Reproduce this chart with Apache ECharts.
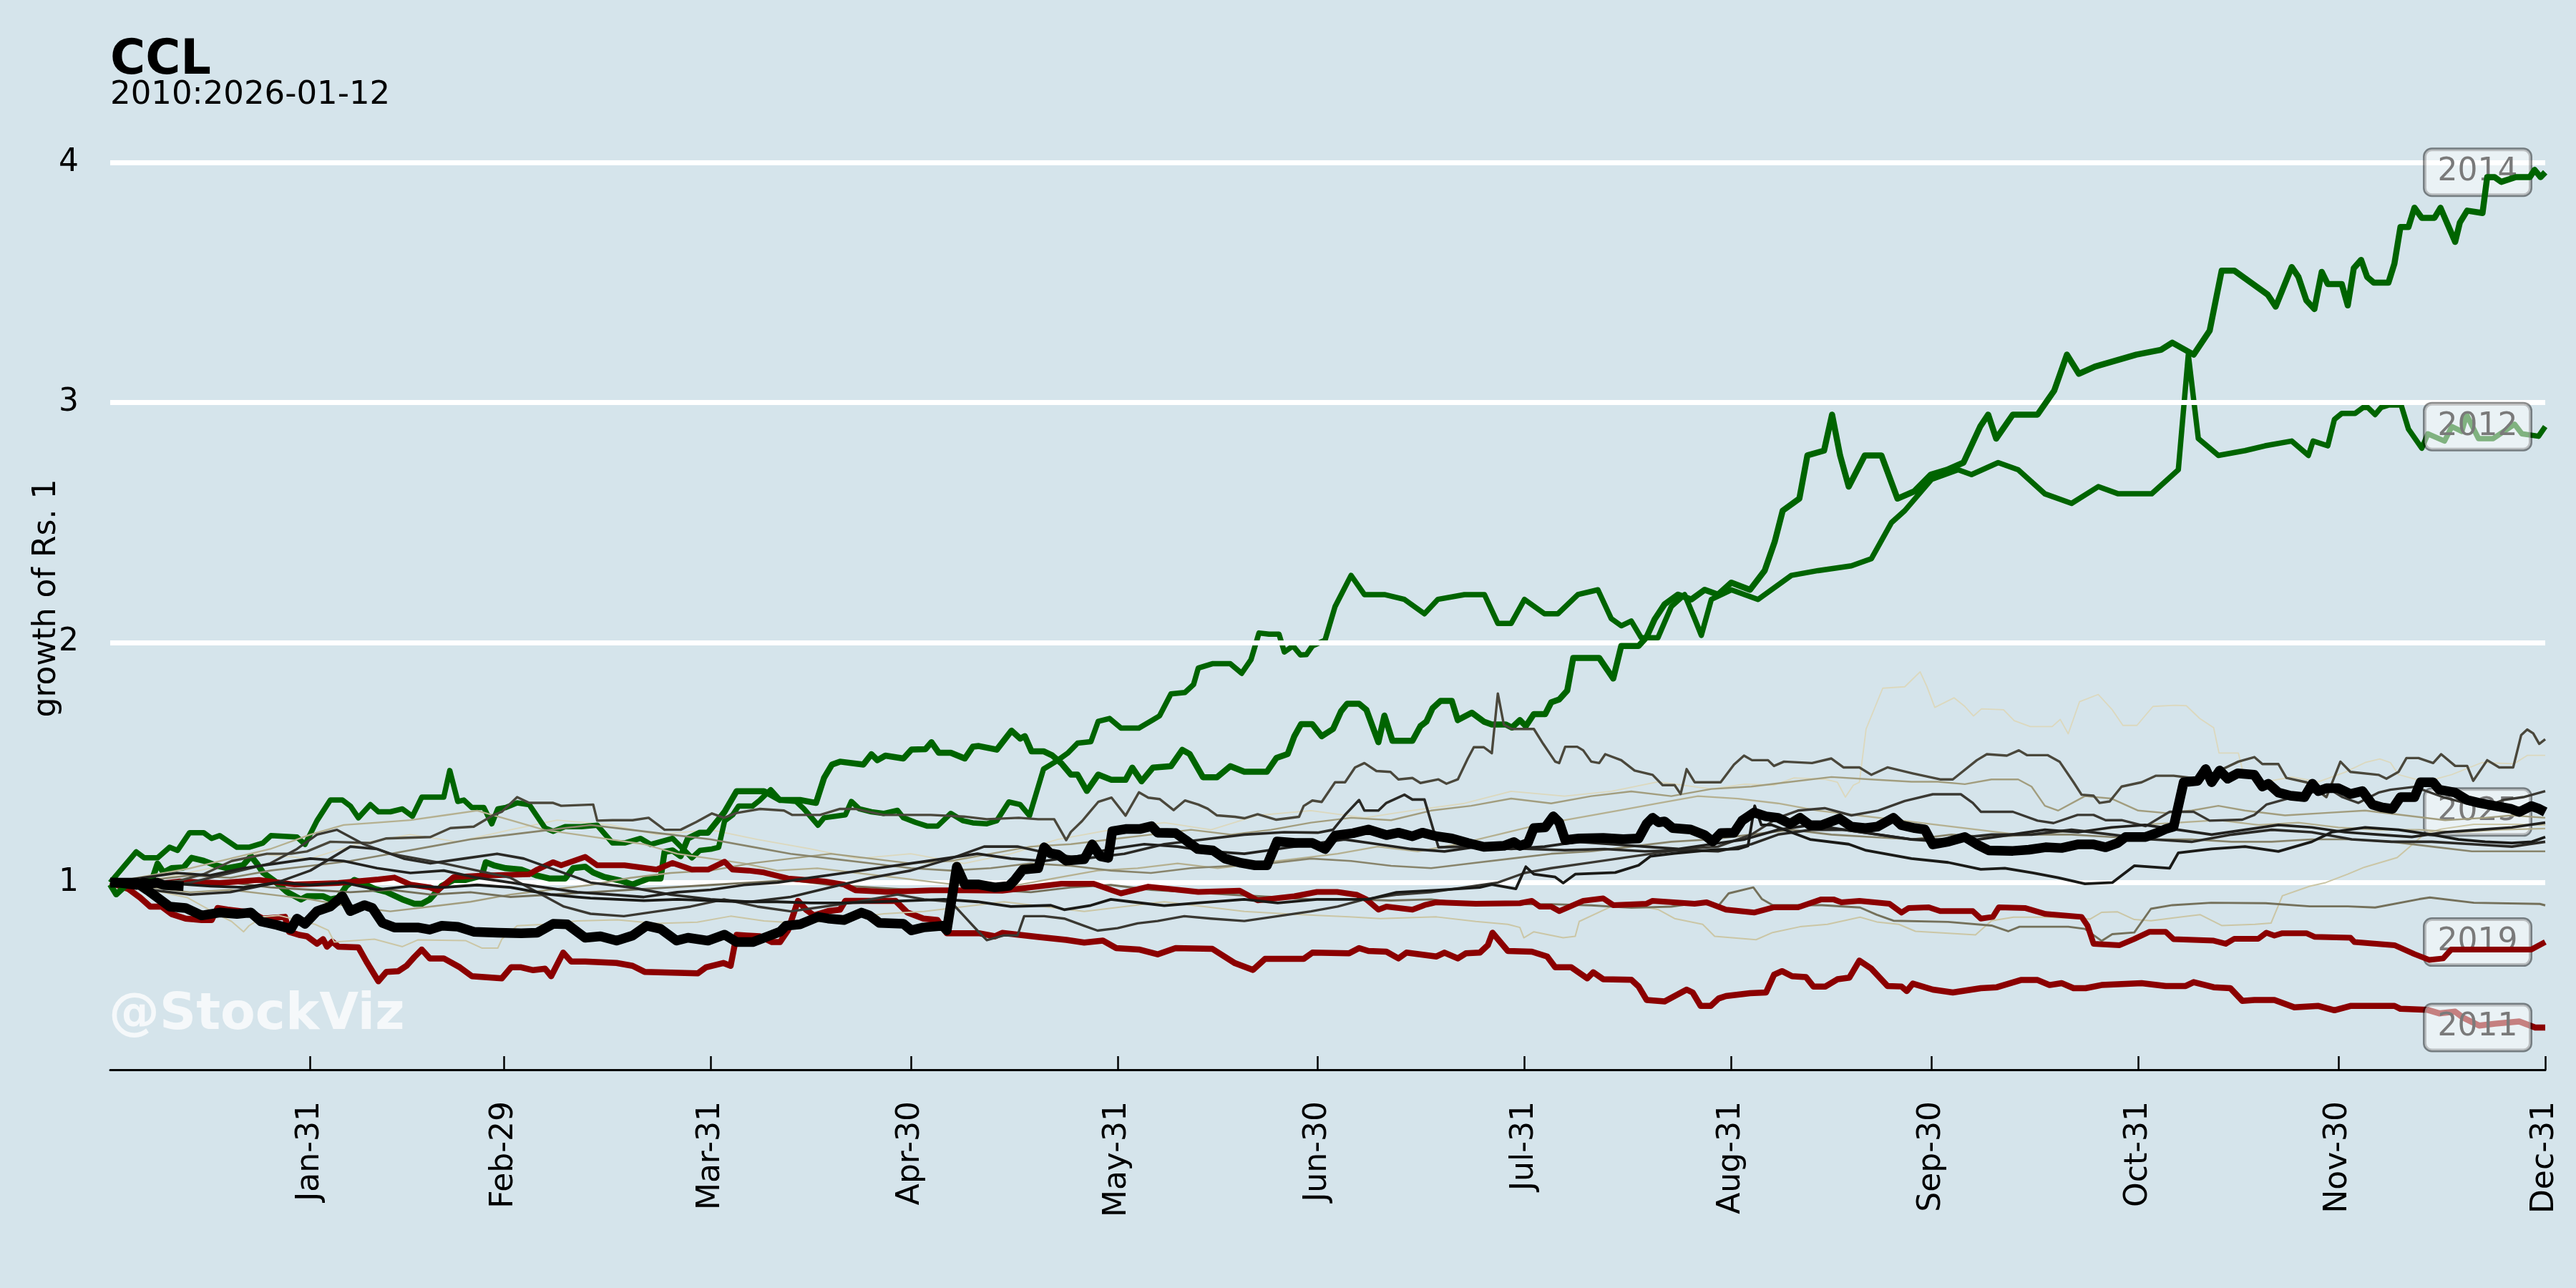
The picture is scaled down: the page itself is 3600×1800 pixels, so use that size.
<!DOCTYPE html>
<html><head><meta charset="utf-8">
<script src="https://cdn.jsdelivr.net/npm/echarts@6/dist/echarts.min.js"></script>
<style>html,body{margin:0;padding:0;background:#d5e4eb;}#c{width:3600px;height:1800px;}</style>
</head><body><div id="c"></div>
<script>
// ---- axis ticks (day of year, leap-year calendar) ----
const tickDays = [30,59,90,120,151,181,212,243,273,304,334,365];
const tickLabels = ['Jan-31','Feb-29','Mar-31','Apr-30','May-31','Jun-30','Jul-31','Aug-31','Sep-30','Oct-31','Nov-30','Dec-31'];
const yTicks = [1,2,3,4];
const titleText = 'CCL';
const subtitleText = '2010:2026-01-12';
const yAxisName = 'growth of Rs. 1';
const watermark = '@StockViz';
const labeledYears = ['2014','2012','2025','2019','2011'];

// ---- series values: [day of year, growth of Rs. 1] ----
const y2010 = [[0,1.0],[8,1.02],[15,1.06],[22,1.12],[30,1.1],[37,1.16],[45,1.2],[52,1.17],[60,1.22],[67,1.26],[75,1.24],[82,1.2],[90,1.22],[97,1.18],[105,1.14],[112,1.1],[120,1.12],[128,1.08],[135,1.12],[142,1.18],[150,1.22],[158,1.25],[165,1.22],[172,1.28],[180,1.3],[188,1.27],[195,1.3],[203,1.33],[210,1.38],[218,1.36],[225,1.38],[232,1.42],[240,1.39],[245,1.41],[249.4,1.406],[252.4,1.436],[257.1,1.43],[258.9,1.418],[260.1,1.356],[261.3,1.406],[262.2,1.418],[263.2,1.64],[265.7,1.81],[269,1.816],[271.3,1.878],[272.3,1.818],[273.5,1.73],[276.4,1.77],[278,1.734],[279.3,1.694],[280.5,1.724],[283.8,1.72],[285.4,1.675],[287.8,1.65],[291.1,1.65],[292.3,1.68],[293.5,1.62],[295.2,1.754],[298,1.784],[300.1,1.72],[301.7,1.655],[303.8,1.655],[306.2,1.734],[309.5,1.739],[311.2,1.737],[313.2,1.684],[315.3,1.645],[316.1,1.54],[319,1.54],[319.8,1.45],[323,1.42],[327,1.44],[331,1.42],[335,1.46],[338,1.5],[340.2,1.515],[341.8,1.5],[343,1.45],[347,1.42],[351,1.45],[355.5,1.5],[360.3,1.495],[362.3,1.53],[365,1.53]];
const y2011 = [[0,1.0],[2.7,0.974],[4.5,0.937],[6,0.9],[7.7,0.9],[9.2,0.869],[11.3,0.85],[13.7,0.844],[15.2,0.844],[16.1,0.894],[17.6,0.887],[21.1,0.875],[22.9,0.85],[26.2,0.857],[26.8,0.795],[28.3,0.782],[29.5,0.776],[31,0.745],[31.9,0.764],[32.5,0.733],[33.3,0.754],[34.2,0.733],[37.2,0.73],[38.4,0.671],[40.2,0.589],[41.4,0.628],[43.2,0.631],[44.4,0.653],[45.6,0.69],[46.7,0.721],[47.9,0.684],[50,0.684],[52.4,0.647],[54.2,0.61],[58.7,0.601],[60.1,0.647],[61.6,0.647],[63.4,0.635],[65.2,0.641],[66.1,0.61],[67.9,0.708],[69.1,0.671],[71.2,0.671],[75.9,0.665],[78.3,0.653],[80.1,0.628],[88.1,0.622],[89.3,0.647],[91.9,0.665],[93,0.653],[93.9,0.782],[95.4,0.779],[97.4,0.776],[99.2,0.752],[100.4,0.752],[101.6,0.801],[103.1,0.924],[104.3,0.887],[105.5,0.863],[107.6,0.881],[109.4,0.887],[110.2,0.924],[113.5,0.924],[117.7,0.924],[119.5,0.875],[121.9,0.85],[124,0.844],[125.4,0.789],[127.8,0.789],[130.2,0.789],[132.6,0.776],[133.7,0.79],[139.2,0.773],[143.3,0.761],[146,0.75],[148.8,0.758],[150.8,0.727],[154.2,0.721],[157,0.701],[159.7,0.727],[165.2,0.724],[168.6,0.664],[171.3,0.636],[173.1,0.682],[178.9,0.682],[180.2,0.708],[185.7,0.705],[187.2,0.727],[188.6,0.715],[191.3,0.712],[193.1,0.684],[194.3,0.708],[198.8,0.692],[200,0.708],[202,0.684],[203.2,0.705],[205.3,0.708],[206.5,0.739],[207.2,0.791],[209.5,0.715],[213.1,0.712],[215.4,0.692],[216.6,0.647],[219,0.647],[221.4,0.601],[222.3,0.626],[223.8,0.597],[228,0.595],[229.1,0.567],[230.3,0.511],[233,0.505],[236.3,0.554],[237.2,0.542],[238.4,0.486],[239.9,0.486],[241.1,0.517],[242.2,0.527],[245.8,0.539],[248.2,0.542],[249.4,0.616],[250.6,0.631],[252.1,0.61],[254.2,0.606],[255.3,0.567],[257.1,0.567],[258.9,0.597],[260.7,0.604],[262.2,0.675],[264,0.641],[266.4,0.569],[268.5,0.567],[269.3,0.548],[270.2,0.579],[273.2,0.554],[276.2,0.542],[280.4,0.56],[282.8,0.564],[286.4,0.594],[288.9,0.594],[290.7,0.573],[292.5,0.581],[294.3,0.56],[296.1,0.56],[298.5,0.573],[304.5,0.581],[308.1,0.569],[311.1,0.569],[312.3,0.585],[315.3,0.564],[317.8,0.56],[319.6,0.507],[321.4,0.511],[324.4,0.511],[327.4,0.48],[331,0.486],[333.4,0.468],[335.8,0.486],[342.4,0.486],[343.3,0.474],[347.3,0.47],[349.1,0.455],[351.5,0.462],[352.7,0.437],[355.1,0.404],[357.5,0.412],[361.1,0.421],[363.5,0.396],[365,0.396]];
const y2012 = [[0,1.0],[3.9,1.128],[5.1,1.103],[7.1,1.103],[8.9,1.147],[10.1,1.134],[11.9,1.208],[14,1.208],[15.2,1.184],[16.4,1.196],[19,1.147],[20.8,1.147],[22.9,1.165],[24.1,1.196],[28,1.19],[29.2,1.159],[31,1.258],[33,1.344],[34.8,1.344],[36,1.319],[37.2,1.27],[39,1.325],[40.2,1.295],[42,1.295],[43.8,1.307],[45.3,1.276],[46.7,1.356],[50,1.356],[50.9,1.467],[52.1,1.338],[53,1.344],[54.2,1.313],[56,1.313],[57.2,1.245],[58.1,1.307],[59.3,1.313],[61,1.332],[62.8,1.325],[65.2,1.227],[66.4,1.214],[68.2,1.233],[70.6,1.233],[73,1.239],[75.3,1.165],[77.1,1.165],[79.5,1.184],[81,1.159],[84.3,1.184],[85.2,1.159],[87.2,1.103],[88.4,1.134],[90.2,1.14],[91.2,1.147],[92.1,1.257],[93.3,1.282],[94.2,1.319],[96.3,1.319],[97.4,1.344],[99,1.387],[100.4,1.344],[102.8,1.338],[104,1.307],[106.1,1.239],[107,1.27],[110.2,1.282],[111.1,1.338],[112.3,1.307],[114.1,1.295],[115.9,1.288],[118,1.301],[118.9,1.27],[120.7,1.251],[122.5,1.235],[124,1.235],[126,1.288],[127.8,1.258],[129.3,1.249],[131.4,1.245],[132.9,1.258],[134.7,1.336],[136.4,1.325],[137.8,1.279],[138.8,1.371],[139.9,1.473],[141.9,1.507],[143.6,1.541],[145,1.581],[147,1.587],[148.1,1.672],[149.8,1.684],[151.5,1.644],[154.2,1.644],[156.3,1.678],[157.3,1.695],[159,1.786],[161.1,1.792],[162.4,1.826],[163.1,1.894],[165.2,1.912],[167.9,1.912],[169.6,1.872],[171,1.929],[172.2,2.04],[173.7,2.035],[175.2,2.035],[176,1.961],[177.3,1.986],[178.4,1.949],[179.3,1.95],[180.2,1.986],[182.1,2.01],[183.6,2.15],[186,2.28],[188,2.2],[191,2.2],[194,2.18],[197,2.12],[199,2.18],[203,2.2],[206,2.2],[208,2.08],[210,2.08],[212,2.18],[215,2.12],[217,2.12],[220,2.2],[223,2.22],[225,2.1],[226.5,2.07],[228,2.09],[229.5,2.02],[232,2.02],[234,2.15],[236,2.2],[237.5,2.1],[238.5,2.03],[240,2.18],[243,2.22],[247,2.18],[252,2.28],[256,2.3],[261,2.32],[264,2.35],[267,2.5],[269,2.55],[273,2.68],[277,2.72],[279,2.7],[283,2.75],[286,2.72],[290,2.62],[294,2.58],[298,2.65],[301,2.62],[306,2.62],[310,2.72],[311.5,3.2],[313,2.85],[316,2.78],[320,2.8],[323,2.82],[327,2.84],[329.5,2.78],[330.2,2.84],[332.4,2.82],[333.4,2.93],[334.5,2.955],[336.5,2.955],[337.7,2.98],[338.4,2.98],[339.5,2.95],[340.4,2.98],[341.6,2.99],[343.4,2.99],[344.5,2.89],[346.5,2.81],[347.4,2.87],[349.9,2.84],[351,2.9],[352.5,2.88],[353.2,2.95],[355,2.85],[357.2,2.85],[360.4,2.91],[361.5,2.87],[364,2.86],[365,2.9]];
const y2013 = [[0,1.0],[4.5,0.98],[11.6,0.937],[16.4,0.863],[18.2,0.838],[20,0.795],[20.8,0.82],[22.9,0.857],[25.3,0.863],[30.7,0.826],[32.7,0.801],[33.6,0.752],[39.6,0.764],[43.8,0.733],[46.1,0.761],[53.3,0.758],[55.7,0.727],[58.1,0.727],[58.7,0.764],[61,0.82],[65.2,0.826],[70,0.84],[76,0.845],[82,0.83],[88,0.835],[93,0.86],[98,0.84],[104,0.83],[110,0.85],[116,0.87],[122,0.88],[128,0.9],[134,0.92],[140,0.9],[146,0.88],[152,0.9],[158,0.92],[164,0.9],[170,0.88],[176,0.87],[180.9,0.863],[185.7,0.857],[190.4,0.85],[198.8,0.857],[204.7,0.838],[209.5,0.826],[211.3,0.813],[211.9,0.77],[213.4,0.795],[217.8,0.77],[219.6,0.776],[220.2,0.838],[225,0.9],[229.7,0.9],[232.1,0.887],[234.5,0.85],[238.7,0.826],[240.5,0.776],[246.7,0.762],[249.2,0.792],[253.3,0.816],[257.4,0.826],[262.3,0.856],[264.8,0.836],[268.1,0.826],[270.6,0.797],[279.6,0.782],[282,0.841],[285.3,0.856],[290.3,0.856],[296.8,0.848],[298.5,0.876],[300.9,0.878],[303.4,0.846],[305.9,0.841],[310.8,0.858],[313.3,0.866],[316.5,0.821],[321.5,0.826],[323.9,0.831],[325.6,0.945],[329.7,0.985],[332.1,1.0],[335.4,1.035],[337.9,1.064],[342.8,1.104],[345.3,1.164],[346.9,1.203],[349.4,1.223],[354.3,1.243],[360.9,1.243],[365,1.24]];
const y2014 = [[0,0.992],[0.9,0.951],[1.8,0.974],[3,1.005],[5,1.011],[6.2,1.005],[7.1,1.079],[8,1.042],[9.2,1.06],[11,1.063],[12.2,1.103],[14,1.091],[15.8,1.072],[17.6,1.06],[19.9,1.072],[21.1,1.11],[22,1.079],[22.9,1.042],[24.7,1.005],[26.5,0.961],[28.6,0.93],[29.5,0.943],[31.9,0.943],[33,0.93],[34.2,0.937],[35.4,0.986],[36.6,1.011],[37.8,0.998],[39.6,0.974],[41.4,0.961],[43.8,0.93],[45.6,0.912],[46.7,0.912],[47.9,0.93],[49.7,0.986],[51.5,1.011],[53.3,1.011],[55.7,1.029],[56.3,1.085],[57.5,1.072],[59.3,1.06],[61.6,1.054],[64,1.029],[65.8,1.017],[68.2,1.017],[69.4,1.06],[71.2,1.066],[72.4,1.042],[74.1,1.023],[76.5,1.008],[78.3,0.992],[80.7,1.017],[82.5,1.017],[83.1,1.128],[84.3,1.134],[85.5,1.11],[86.6,1.184],[88.4,1.208],[89.6,1.208],[92.1,1.295],[93.9,1.381],[98,1.381],[100.4,1.344],[103.4,1.344],[105.8,1.332],[107,1.436],[108.2,1.492],[109.4,1.504],[112.9,1.492],[114.1,1.535],[115,1.51],[116.2,1.529],[118.9,1.517],[120.1,1.554],[122.2,1.556],[123.1,1.585],[124.2,1.541],[126,1.541],[128.1,1.517],[129.3,1.566],[130.2,1.569],[132.9,1.554],[135.1,1.633],[136.4,1.6],[137.1,1.61],[138.1,1.547],[139.9,1.547],[141.2,1.53],[142.6,1.496],[144,1.45],[145,1.45],[146.4,1.382],[148.1,1.45],[150.1,1.428],[152.2,1.428],[153.2,1.479],[154.6,1.422],[156.3,1.479],[159,1.485],[160.7,1.553],[161.8,1.536],[163.8,1.439],[165.9,1.439],[167.9,1.485],[170,1.462],[173.4,1.462],[174.8,1.519],[176.5,1.536],[177.5,1.61],[178.5,1.66],[180.2,1.66],[181.6,1.61],[183.3,1.64],[184.5,1.714],[185.4,1.745],[187.2,1.745],[188.3,1.72],[189.2,1.652],[190.1,1.585],[191,1.696],[192.2,1.591],[195.2,1.591],[196.4,1.652],[197.3,1.671],[198.2,1.726],[199.4,1.757],[201.1,1.757],[202,1.677],[204.1,1.708],[205.9,1.671],[207.1,1.659],[209.2,1.659],[210.1,1.646],[211.3,1.677],[212.2,1.652],[213.4,1.702],[215.1,1.702],[216,1.751],[217.2,1.763],[218.4,1.8],[219.3,1.936],[223.2,1.936],[225.3,1.85],[226.5,1.986],[229.1,1.986],[230.3,2.023],[231.5,2.097],[233,2.16],[235,2.2],[237,2.18],[239,2.22],[241,2.2],[243,2.25],[245.8,2.22],[248,2.3],[249.5,2.42],[250.7,2.55],[253.2,2.6],[254.4,2.78],[256.9,2.8],[258.1,2.95],[259.3,2.78],[260.6,2.65],[263,2.78],[265.5,2.78],[267.9,2.6],[270.4,2.63],[272.9,2.7],[275.3,2.72],[277.8,2.75],[280.3,2.9],[281.5,2.95],[282.7,2.85],[285.2,2.95],[288.9,2.95],[291.4,3.05],[293.3,3.2],[295.1,3.12],[297.5,3.15],[301.2,3.18],[303.7,3.2],[307.4,3.22],[309.1,3.25],[312.3,3.2],[314.7,3.3],[316.5,3.55],[318.4,3.55],[320.9,3.5],[323.4,3.45],[324.6,3.4],[327,3.565],[328,3.524],[329.2,3.426],[330.4,3.39],[331.5,3.545],[332.4,3.494],[334.5,3.494],[335.4,3.405],[336.3,3.56],[337.4,3.595],[338.3,3.524],[339.3,3.5],[341.5,3.5],[342.4,3.58],[343.3,3.732],[344.5,3.732],[345.4,3.812],[346.5,3.77],[348.4,3.77],[349.3,3.812],[351.5,3.67],[352.2,3.75],[353.3,3.8],[355.6,3.79],[356.3,3.94],[357.4,3.94],[358.4,3.92],[360.6,3.94],[362.7,3.94],[363.4,3.97],[364.3,3.94],[365,3.96]];
const y2015 = [[0,1.0],[6,1.03],[12,1.06],[18,1.1],[24,1.14],[30,1.2],[35,1.24],[40,1.25],[45,1.26],[50,1.28],[55,1.3],[60,1.26],[65,1.22],[70,1.2],[75,1.18],[80,1.16],[85,1.12],[90,1.1],[95,1.08],[100,1.05],[106,1.06],[112,1.04],[118,1.02],[124,1.0],[130,0.98],[136,0.99],[142,1.02],[148,1.05],[154,1.06],[160,1.08],[166,1.06],[172,1.08],[178,1.1],[184,1.12],[190,1.15],[196,1.13],[202,1.16],[208,1.2],[214,1.24],[220,1.27],[226,1.3],[232,1.33],[238,1.36],[244,1.35],[250,1.33],[256,1.3],[262,1.28],[268,1.26],[274,1.24],[280,1.22],[286,1.2],[292,1.21],[298,1.22],[304,1.24],[310,1.25],[316,1.26],[322,1.24],[328,1.25],[334,1.23],[340,1.22],[346,1.22],[352,1.21],[358,1.22],[365,1.225]];
const y2016 = [[0,1.0],[6,0.98],[12,0.96],[18,0.97],[24,0.95],[30,0.93],[36,0.9],[42,0.88],[48,0.9],[54,0.92],[60,0.95],[66,0.97],[72,0.99],[78,1.02],[84,1.04],[90,1.05],[96,1.08],[102,1.1],[108,1.12],[114,1.1],[120,1.08],[126,1.09],[132,1.12],[138,1.15],[144,1.16],[150,1.18],[156,1.2],[162,1.22],[168,1.2],[174,1.22],[180,1.25],[186,1.27],[192,1.26],[198,1.3],[204,1.32],[210,1.35],[216,1.33],[222,1.36],[228,1.38],[234,1.36],[240,1.39],[246,1.4],[252,1.42],[258,1.44],[264,1.43],[270,1.42],[274,1.42],[278,1.41],[282,1.43],[286,1.43],[288,1.4],[290,1.32],[292,1.3],[296,1.36],[300,1.35],[304,1.3],[308,1.29],[312,1.3],[316,1.32],[320,1.3],[326,1.28],[332,1.29],[338,1.3],[344,1.28],[350,1.26],[356,1.27],[360,1.28],[365,1.27]];
const y2017 = [[0,1.0],[6,1.01],[12,1.03],[18,1.02],[24,1.05],[30,1.07],[36,1.09],[42,1.12],[48,1.15],[54,1.18],[60,1.2],[66,1.22],[72,1.24],[78,1.22],[84,1.2],[90,1.18],[96,1.15],[102,1.12],[108,1.1],[114,1.08],[120,1.06],[126,1.05],[132,1.06],[138,1.08],[144,1.07],[150,1.05],[156,1.04],[162,1.06],[168,1.07],[174,1.08],[180,1.1],[186,1.09],[192,1.07],[198,1.06],[204,1.08],[210,1.1],[216,1.12],[222,1.13],[228,1.15],[234,1.17],[240,1.18],[246,1.2],[252,1.22],[258,1.2],[264,1.19],[270,1.18],[276,1.2],[282,1.19],[288,1.2],[294,1.2],[300,1.19],[306,1.18],[312,1.18],[318,1.17],[324,1.17],[330,1.18],[336,1.18],[342,1.17],[348,1.15],[354,1.13],[360,1.13],[365,1.13]];
const y2018 = [[0,1.0],[6,0.99],[12,1.01],[18,1.0],[24,0.98],[30,0.97],[36,0.96],[42,0.97],[48,0.95],[54,0.96],[60,0.94],[66,0.95],[72,0.96],[78,0.97],[84,0.98],[90,0.99],[96,1.0],[102,1.01],[108,0.99],[114,0.98],[120,0.97],[126,0.96],[132,0.97],[138,0.96],[144,0.98],[150,0.99],[156,0.97],[162,0.96],[168,0.95],[174,0.94],[180,0.93],[186,0.93],[192,0.925],[198,0.93],[204,0.91],[210,0.91],[216,0.91],[222,0.905],[228,0.895],[234,0.9],[238,0.915],[241,0.901],[242.6,0.955],[246.3,0.98],[247.6,0.931],[249.2,0.906],[256.6,0.906],[262.3,0.896],[264.8,0.866],[267.3,0.841],[275.5,0.836],[282,0.821],[284.5,0.797],[286.2,0.816],[293.5,0.816],[296,0.807],[298.5,0.757],[300.1,0.785],[303.4,0.792],[305.9,0.891],[309.1,0.906],[314.9,0.916],[323.1,0.914],[329.7,0.901],[335.4,0.901],[339.5,0.896],[346.1,0.931],[347.7,0.938],[354.3,0.916],[364.2,0.911],[365,0.905]];
const y2019 = [[0,1.0],[4.5,0.986],[10.4,1.005],[16.4,0.998],[22.3,1.011],[27.7,0.992],[34.2,0.998],[40.2,1.013],[42.6,1.021],[45,0.992],[47.9,0.98],[49.1,0.968],[51.5,1.023],[55.7,1.029],[62.8,1.035],[64,1.054],[66.4,1.085],[67.6,1.072],[71.2,1.107],[73,1.072],[77.1,1.072],[81.9,1.054],[84.3,1.082],[87.2,1.054],[89.6,1.054],[92.1,1.087],[93.3,1.054],[95.7,1.05],[98,1.042],[101.6,1.017],[107,1.005],[110,0.992],[111.7,0.968],[116.5,0.961],[123.1,0.968],[128.4,0.968],[133.7,0.966],[142.6,0.995],[147.4,0.995],[151.5,0.955],[155.6,0.983],[163.1,0.961],[169.3,0.966],[172,0.926],[177.5,0.943],[180.9,0.961],[183.9,0.961],[186.9,0.949],[188.3,0.93],[190.1,0.887],[191.3,0.9],[195.2,0.887],[197,0.906],[198.8,0.918],[204.7,0.912],[211.3,0.914],[213.1,0.924],[214.3,0.9],[216,0.9],[217.2,0.881],[220.8,0.924],[223.8,0.934],[225.3,0.906],[230.3,0.912],[231.2,0.924],[237.5,0.912],[239.3,0.918],[242.2,0.887],[246.4,0.875],[249.4,0.897],[253,0.897],[256.5,0.93],[258.3,0.93],[259.5,0.918],[262.2,0.924],[266.7,0.912],[268.5,0.875],[269.6,0.894],[272.6,0.897],[274.3,0.881],[279.2,0.881],[280.4,0.85],[282.2,0.857],[283.1,0.897],[287,0.894],[290.1,0.869],[295.5,0.857],[296.4,0.82],[297.3,0.745],[301.2,0.739],[303.3,0.764],[305.7,0.795],[308.1,0.795],[309.3,0.764],[315.3,0.758],[317.1,0.745],[318.4,0.766],[322,0.766],[323.2,0.791],[324.4,0.779],[325.6,0.789],[329.2,0.789],[330.4,0.774],[335.8,0.77],[336.4,0.752],[342.4,0.739],[345.4,0.702],[347.6,0.678],[349.7,0.684],[350.9,0.721],[362.9,0.721],[365,0.752]];
const y2020 = [[0,1.0],[4.5,0.99],[10.4,1.008],[14,1.035],[18.2,1.09],[23.5,1.12],[27.1,1.12],[29.5,1.13],[33,1.17],[39,1.165],[41.4,1.184],[48,1.19],[51,1.227],[54.5,1.233],[57.5,1.282],[58.7,1.295],[61,1.356],[62.8,1.332],[66.4,1.332],[67.6,1.32],[72.4,1.325],[73,1.258],[75.3,1.26],[78.3,1.26],[80.7,1.27],[83.1,1.22],[85.5,1.22],[87.8,1.252],[90.2,1.288],[92,1.27],[93.9,1.29],[97.4,1.307],[101,1.3],[102.2,1.282],[106.4,1.282],[109.4,1.307],[111.7,1.307],[115.9,1.282],[123,1.282],[128,1.275],[131.4,1.264],[136.2,1.27],[139.1,1.264],[141.5,1.264],[143.3,1.177],[144,1.211],[145.7,1.257],[146.7,1.29],[148.1,1.336],[150.1,1.354],[152.2,1.279],[154.2,1.376],[155.6,1.354],[157.3,1.348],[159.4,1.302],[161.1,1.342],[163.1,1.325],[164.5,1.308],[165.9,1.28],[168.6,1.274],[170,1.268],[172,1.285],[174.8,1.262],[178.2,1.274],[178.9,1.319],[180.2,1.342],[181.6,1.336],[183.6,1.418],[185.1,1.418],[186.6,1.48],[188,1.498],[189.8,1.465],[191.9,1.461],[193.1,1.43],[195.2,1.436],[196.4,1.415],[199.1,1.43],[200.3,1.412],[202,1.43],[203.5,1.517],[204.4,1.564],[205.9,1.564],[207.1,1.539],[208,1.788],[208.9,1.658],[210.1,1.64],[213.4,1.64],[214.8,1.578],[216.6,1.504],[217.2,1.498],[218.1,1.566],[219.9,1.566],[220.8,1.551],[222,1.504],[223.2,1.498],[224.1,1.535],[226.5,1.51],[228.5,1.467],[231.2,1.449],[232.7,1.406],[234.5,1.406],[235.4,1.369],[236.3,1.473],[237.5,1.418],[241.4,1.418],[243.4,1.492],[244.9,1.529],[246.1,1.51],[248.5,1.51],[249.4,1.486],[250.9,1.504],[255.1,1.498],[258,1.517],[259.8,1.48],[262.2,1.48],[264,1.449],[266.4,1.48],[270.2,1.455],[274.3,1.43],[276.2,1.43],[279.8,1.51],[281.3,1.535],[284.3,1.529],[286.1,1.551],[287.3,1.531],[290.4,1.531],[292.2,1.504],[294.3,1.418],[295.5,1.366],[297.3,1.362],[298.2,1.332],[299.7,1.338],[301.5,1.4],[304.5,1.418],[306.6,1.445],[309.3,1.445],[312.9,1.433],[315.3,1.455],[319,1.504],[321.4,1.523],[322.6,1.494],[325,1.494],[326.2,1.436],[329.2,1.418],[332.2,1.356],[334.3,1.504],[335.8,1.461],[340,1.449],[341.2,1.433],[343,1.461],[344.2,1.519],[346,1.519],[348.2,1.498],[349.4,1.535],[351.5,1.486],[353.3,1.486],[354.2,1.424],[356.3,1.51],[358.1,1.48],[360.2,1.48],[361.4,1.615],[362.3,1.638],[363.2,1.622],[364.1,1.578],[365,1.597]];
const y2021 = [[0,1.0],[6,0.98],[12,1.0],[18,1.04],[24,1.08],[28,1.14],[31,1.2],[34,1.22],[38,1.16],[42,1.12],[46,1.1],[50,1.08],[55,1.05],[60,1.02],[64,0.96],[68,0.9],[72,0.87],[77,0.86],[82,0.88],[87,0.9],[92,0.93],[97,0.9],[102,0.88],[107,0.9],[112,0.92],[118,0.95],[122,0.93],[126,0.92],[128,0.86],[130,0.8],[131.4,0.76],[134,0.78],[136,0.78],[137,0.86],[140,0.86],[143,0.85],[146,0.82],[148,0.8],[151,0.81],[154,0.83],[157,0.84],[161,0.86],[165,0.85],[170,0.84],[175,0.86],[180,0.88],[184,0.9],[188,0.93],[193,0.95],[198,0.96],[203,0.98],[208,1.0],[212,1.04],[216,1.06],[221,1.08],[226,1.1],[231,1.12],[236,1.14],[241,1.15],[246,1.2],[250,1.27],[253,1.3],[257,1.31],[261,1.28],[265,1.3],[269,1.34],[273.2,1.368],[277.4,1.368],[279.2,1.332],[280.4,1.295],[285.2,1.295],[288.9,1.258],[291.3,1.248],[294.9,1.282],[297.3,1.282],[299.1,1.26],[301.5,1.26],[305.1,1.235],[308.7,1.295],[312.3,1.295],[314.7,1.258],[319.6,1.262],[321.4,1.282],[323.2,1.325],[325.6,1.344],[329.8,1.375],[332.8,1.387],[334.6,1.356],[337,1.332],[340,1.375],[341.8,1.387],[345.4,1.399],[349.7,1.356],[353.9,1.325],[356.3,1.319],[358.7,1.344],[361.7,1.356],[365,1.381]];
const y2022 = [[0,1.0],[6,0.97],[12,0.95],[18,0.96],[25,1.0],[30,1.05],[33,1.1],[36,1.15],[40,1.14],[44,1.1],[48,1.08],[53,1.1],[58,1.12],[62,1.1],[67,1.05],[72,1.0],[78,0.98],[84,0.95],[90,0.93],[96,0.92],[102,0.94],[108,0.98],[114,1.02],[120,1.05],[126,1.1],[131,1.15],[136,1.15],[141,1.12],[146,1.1],[152,1.12],[158,1.16],[164,1.18],[170,1.2],[176,1.21],[181,1.208],[183.3,1.22],[185.1,1.282],[187.2,1.344],[188,1.3],[190.1,1.3],[191.3,1.332],[194,1.366],[195.2,1.346],[197,1.346],[198.2,1.233],[199.1,1.147],[203,1.15],[208,1.145],[213,1.14],[218,1.135],[224,1.14],[230,1.13],[236,1.135],[241,1.13],[246,1.16],[250,1.2],[255,1.22],[260,1.22],[265,1.2],[270,1.18],[275,1.18],[282,1.2],[288,1.2],[294,1.22],[300,1.2],[306,1.18],[312,1.17],[318,1.2],[324,1.22],[330,1.21],[336,1.18],[342,1.17],[348,1.17],[354,1.16],[360,1.15],[365,1.17]];
const y2023 = [[0,1.0],[5,1.02],[10,1.04],[15,1.03],[20,1.06],[25,1.08],[30,1.1],[35,1.09],[40,1.06],[45,1.04],[50,1.05],[55,1.02],[60,1.0],[65,0.98],[70,0.96],[75,0.95],[80,0.94],[85,0.96],[90,0.97],[95,0.99],[100,1.0],[105,1.02],[110,1.04],[115,1.06],[120,1.08],[125,1.1],[130,1.12],[135,1.1],[140,1.09],[145,1.11],[150,1.14],[155,1.16],[160,1.15],[165,1.13],[170,1.12],[175,1.14],[180,1.16],[185,1.18],[190,1.16],[195,1.14],[200,1.13],[205,1.15],[210,1.14],[215,1.15],[220,1.17],[225,1.16],[230,1.15],[235,1.14],[240,1.16],[245,1.18],[250,1.22],[255,1.24],[260,1.22],[265,1.2],[270,1.18],[275,1.17],[280,1.18],[285,1.2],[290,1.22],[295,1.21],[300,1.23],[305,1.24],[310,1.22],[315,1.2],[320,1.22],[325,1.24],[330,1.23],[335,1.21],[340,1.2],[345,1.19],[350,1.21],[355,1.22],[360,1.23],[365,1.25]];
const y2024 = [[0,1.0],[5,0.99],[10,0.995],[15,0.985],[20,0.98],[25,1.0],[30,0.99],[35,1.0],[40,0.97],[45,0.985],[50,0.98],[55,0.99],[60,0.98],[63,0.965],[66,0.95],[70,0.94],[72,0.935],[76,0.93],[80,0.925],[85,0.93],[90,0.925],[95,0.92],[100,0.92],[105,0.915],[110,0.915],[115,0.92],[120,0.925],[125,0.93],[130,0.92],[135,0.9],[141,0.905],[143,0.887],[147,0.905],[150,0.93],[153,0.92],[158,0.904],[163,0.915],[170,0.93],[175,0.915],[180.9,0.93],[188.6,0.93],[192.8,0.959],[198.8,0.968],[205.3,0.98],[207.1,0.992],[210.7,0.974],[212.2,1.066],[213.4,1.035],[216.6,1.023],[217.8,0.998],[219.6,1.035],[225.6,1.042],[229.1,1.072],[230.9,1.11],[234.5,1.122],[240.5,1.137],[244,1.14],[245.5,1.153],[246.5,1.32],[247.5,1.24],[249.1,1.24],[254.8,1.18],[260.6,1.16],[263.2,1.134],[270,1.1],[275.5,1.084],[280.4,1.055],[284,1.06],[288.2,1.04],[292,1.02],[296,0.995],[300.1,1.0],[303.4,1.07],[308.7,1.06],[310,1.124],[315,1.14],[320,1.15],[325,1.13],[330,1.17],[333,1.21],[338,1.23],[343,1.22],[348,1.2],[352,1.18],[356,1.17],[360,1.165],[363,1.17],[365,1.19]];
const y2025 = [[0,1.0],[3.9,1.0],[5.6,0.968],[8.9,0.9],[11.3,0.894],[13.7,0.863],[16.4,0.875],[19,0.869],[21.1,0.875],[22.6,0.838],[25,0.823],[27.1,0.807],[28,0.85],[29.2,0.828],[31,0.881],[33,0.9],[34.8,0.943],[36,0.881],[38.1,0.906],[39.3,0.894],[40.8,0.832],[42.6,0.813],[46.1,0.813],[47.9,0.804],[49.7,0.82],[52.1,0.816],[54.5,0.795],[58.1,0.791],[61.6,0.789],[64,0.791],[66.4,0.828],[68.5,0.826],[71.2,0.77],[73.5,0.776],[75.9,0.758],[78.3,0.779],[80.4,0.82],[82.5,0.807],[84.9,0.758],[86.6,0.77],[89.6,0.758],[92.1,0.783],[93.9,0.752],[96.3,0.752],[98.6,0.776],[100.4,0.795],[101.3,0.82],[103.4,0.826],[106.1,0.857],[107.6,0.85],[110,0.844],[111.1,0.857],[112.6,0.875],[113.8,0.863],[115.3,0.832],[118.9,0.828],[120.1,0.801],[121.9,0.813],[124.8,0.82],[125.4,0.801],[126.9,1.066],[128.1,0.992],[130.2,0.992],[132.6,0.98],[134.7,0.986],[135.6,1.011],[136.8,1.054],[139.1,1.06],[140,1.147],[140.9,1.122],[142.1,1.116],[143.3,1.091],[146,1.097],[147.2,1.159],[148.4,1.11],[149.6,1.103],[150.2,1.214],[152.2,1.223],[154.3,1.223],[156.1,1.235],[157,1.208],[159.7,1.206],[161.2,1.177],[163,1.14],[165.3,1.134],[167.1,1.1],[169.5,1.082],[171.6,1.072],[173.4,1.072],[174.9,1.171],[177.6,1.165],[180.2,1.165],[182.1,1.14],[183.6,1.196],[186.3,1.206],[188.6,1.221],[191.3,1.198],[193.1,1.208],[195.2,1.193],[196.7,1.208],[198.8,1.193],[201.1,1.184],[203.5,1.165],[205.9,1.149],[208.9,1.153],[210.4,1.169],[211.3,1.153],[212.5,1.165],[213.4,1.227],[215.1,1.23],[216.3,1.276],[217.2,1.251],[218.1,1.177],[220.2,1.184],[223.8,1.186],[226.8,1.181],[229.1,1.184],[230.3,1.245],[231.2,1.27],[232.1,1.251],[233,1.255],[234.2,1.227],[236.9,1.221],[239,1.198],[240.2,1.171],[241.4,1.206],[243.4,1.208],[244.6,1.258],[246.4,1.292],[248.2,1.276],[250,1.27],[251.8,1.245],[253.3,1.27],[254.8,1.239],[256.5,1.239],[259.2,1.267],[261,1.233],[263.1,1.227],[264.9,1.233],[267.3,1.27],[268.5,1.239],[270.5,1.227],[272,1.221],[273.2,1.159],[275.6,1.171],[278,1.19],[279.8,1.159],[281.6,1.134],[285.2,1.132],[287.6,1.137],[290.1,1.147],[292.5,1.144],[294.9,1.159],[297.3,1.159],[299.1,1.147],[300.9,1.165],[302.1,1.19],[305.1,1.19],[306.9,1.208],[308.1,1.223],[309.3,1.233],[310.8,1.418],[312.9,1.424],[314.1,1.473],[315,1.418],[316.2,1.467],[317.4,1.433],[318.9,1.455],[321.4,1.449],[322.6,1.4],[323.5,1.412],[325,1.375],[326.8,1.362],[328.9,1.356],[330.1,1.412],[331,1.381],[332.2,1.393],[334,1.393],[335.8,1.369],[337.6,1.381],[339.1,1.325],[340.6,1.313],[342.1,1.307],[343.3,1.356],[345.4,1.356],[346.3,1.418],[348.2,1.418],[349.1,1.387],[351.5,1.375],[353.3,1.344],[355.1,1.332],[357.5,1.319],[359.9,1.307],[361.1,1.294],[362.9,1.319],[364.1,1.307],[365,1.294]];
const y2026 = [[0,1.0],[1,1.0],[4,0.99],[5,1.0],[6,0.995],[7,1.0],[8,0.99],[11,0.985]];

const seriesData = {
  '2010': y2010, '2013': y2013, '2015': y2015, '2016': y2016, '2017': y2017, '2018': y2018,
  '2020': y2020, '2021': y2021, '2022': y2022, '2023': y2023, '2024': y2024,
  '2011': y2011, '2019': y2019, '2012': y2012, '2014': y2014, '2025': y2025, '2026': y2026
};
// drawing order and styles
const styles = {
  '2010': {color:'#dcd8bd', width:1.8},
  '2013': {color:'#cbc6a5', width:2.0},
  '2015': {color:'#b5b090', width:2.3},
  '2016': {color:'#a29d7e', width:2.4},
  '2017': {color:'#88846b', width:2.6},
  '2018': {color:'#74705a', width:2.9},
  '2020': {color:'#4a473b', width:3.4},
  '2021': {color:'#3a3832', width:3.4},
  '2022': {color:'#2a2925', width:3.6},
  '2023': {color:'#22211e', width:3.7},
  '2024': {color:'#1a1a17', width:3.8},
  '2011': {color:'#8b0000', width:8.5},
  '2019': {color:'#8b0000', width:8},
  '2012': {color:'#006400', width:7.5},
  '2014': {color:'#006400', width:8.5},
  '2025': {color:'#000000', width:13.5},
  '2026': {color:'#000000', width:13.5}
};
const FONT = '"DejaVu Sans", "Noto Sans", sans-serif';

const series = [{
  type:'line', data:[], z:1, silent:true,
  markLine:{silent:true, symbol:'none', animation:false, label:{show:false},
    lineStyle:{color:'#ffffff', width:7, type:'solid'},
    data: yTicks.map(v => ({yAxis:v}))}
}];
Object.keys(styles).forEach((yr, i) => {
  const d = seriesData[yr];
  const s = {
    name: yr, type:'line', data:d, showSymbol:false, symbol:'none', silent:true, z: 2 + i,
    lineStyle:{color:styles[yr].color, width:styles[yr].width, join:'round'},
    animation:false
  };
  if (labeledYears.includes(yr)) {
    s.markPoint = {
      symbol:'circle', symbolSize:1, silent:true, animation:false,
      itemStyle:{color:'rgba(0,0,0,0)'},
      data:[{coord:d[d.length-1], value:yr}],
      label:{show:true, formatter:yr, position:'left', distance:20,
        color:'#7a7a7a', fontSize:44, fontFamily:FONT, lineHeight:44,
        backgroundColor:'rgba(255,255,255,0.5)', borderColor:'rgba(0,0,0,0.45)',
        borderWidth:2.5, borderRadius:10, padding:[10,18]}
    };
  }
  series.push(s);
});

const chart = echarts.init(document.getElementById('c'), null, {renderer:'canvas', width:3600, height:1800});
chart.setOption({
  backgroundColor:'#d5e4eb',
  animation:false,
  grid:{left:154, right:43, top:177, bottom:305, containLabel:false},
  xAxis:{type:'value', min:0, max:365,
    axisLine:{show:true, lineStyle:{color:'#000', width:3}},
    axisTick:{show:true, inside:true, length:19, lineStyle:{color:'#000', width:2.5}, customValues:tickDays},
    axisLabel:{show:true, customValues:tickDays, rotate:90, margin:44, fontSize:44, color:'#000', fontFamily:FONT,
      formatter: v => tickLabels[tickDays.indexOf(v)] || ''},
    splitLine:{show:false}},
  yAxis:{type:'value', min:0.22, max:4.15,
    axisLine:{show:false}, axisTick:{show:false}, splitLine:{show:false},
    axisLabel:{show:true, customValues:yTicks, fontSize:44, color:'#000', fontFamily:FONT, margin:44},
    name:yAxisName, nameLocation:'middle', nameRotate:90, nameGap:66, nameMoveOverlap:false,
    nameTextStyle:{fontSize:44, color:'#000', fontFamily:FONT}},
  graphic:[
    {type:'text', x:154, y:86, z:100, style:{text:titleText, fontSize:67, fontWeight:'bold', fontFamily:FONT, fill:'#000', align:'left', verticalAlign:'middle'}},
    {type:'text', x:154, y:133, z:100, style:{text:subtitleText, fontSize:45, fontFamily:FONT, fill:'#000', align:'left', verticalAlign:'middle'}},
    {type:'text', x:152, y:1420, z:100, style:{text:watermark, fontSize:71, fontWeight:'bold', fontFamily:FONT, fill:'rgba(255,255,255,0.75)', align:'left', verticalAlign:'middle'}}
  ],
  series: series
});
</script>
</body></html>
